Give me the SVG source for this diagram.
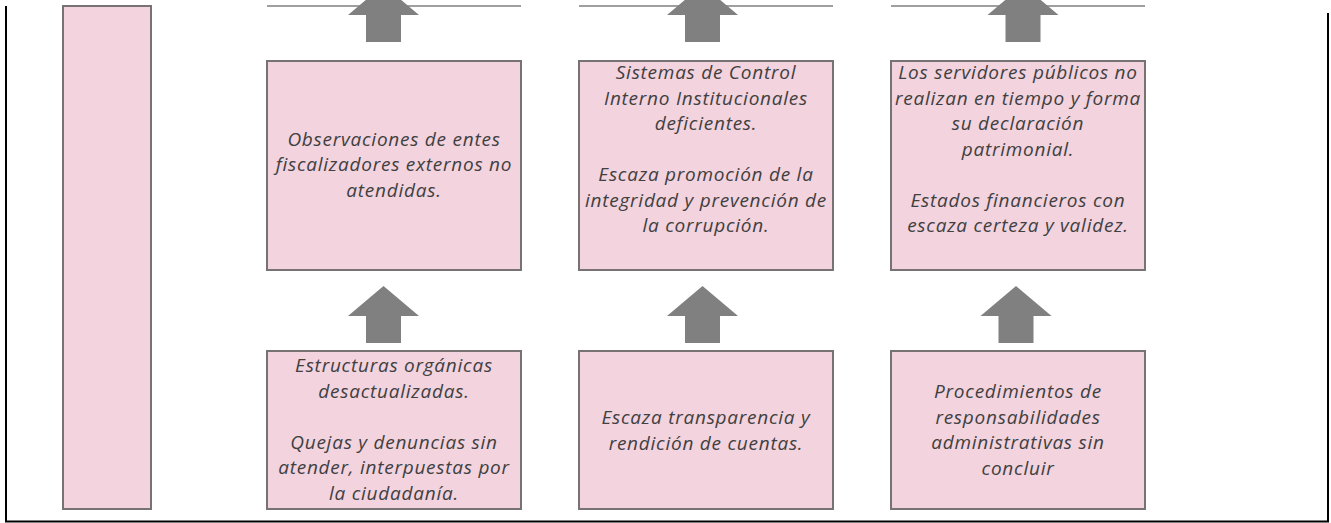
<svg xmlns="http://www.w3.org/2000/svg" width="1331" height="523" viewBox="0 0 1331 523">
<style>
.box{fill:#F2D3DE;stroke:#777373;stroke-width:2}
.arrow{fill:#808080}
.hl{stroke:#7F7F7F;stroke-width:1.5;fill:none}
.frame{stroke:#000;stroke-width:2;fill:none}
text{font-family:"Open Sans","Liberation Sans",sans-serif;font-style:italic;font-size:19px;letter-spacing:0.75px;fill:#404040;text-anchor:middle}
</style>
<defs>
<path id="up" d="M0,-30 L35.5,0 L17.5,0 L17.5,27 L-17.5,27 L-17.5,0 L-35.5,0 Z"/>
</defs>
<g id="frame">
<path class="frame" d="M6,6 V521.5 H1328 V13"/>
</g>
<g id="connectors">
<line class="hl" x1="267" y1="6" x2="521" y2="6"/>
<line class="hl" x1="579" y1="6" x2="833" y2="6"/>
<line class="hl" x1="891" y1="6" x2="1145" y2="6"/>
<use href="#up" class="arrow" x="383.5" y="15"/>
<use href="#up" class="arrow" x="702.5" y="15"/>
<use href="#up" class="arrow" x="1023" y="15"/>
<use href="#up" class="arrow" x="383.5" y="316"/>
<use href="#up" class="arrow" x="702.5" y="316"/>
<use href="#up" class="arrow" x="1016" y="316"/>
</g>
<g id="leftbar"><rect class="box" x="63" y="6" width="88" height="503"/></g>
<g id="box-top1">
<rect class="box" x="267" y="61" width="254" height="209"/>
<text><tspan x="394" y="145.5">Observaciones de entes</tspan><tspan x="394" y="171">fiscalizadores externos no</tspan><tspan x="394" y="196.5">atendidas.</tspan></text>
</g>
<g id="box-top2">
<rect class="box" x="579" y="61" width="254" height="209"/>
<text><tspan x="706" y="79">Sistemas de Control</tspan><tspan x="706" y="104.5">Interno Institucionales</tspan><tspan x="706" y="130">deficientes.</tspan><tspan x="706" y="181">Escaza promoción de la</tspan><tspan x="706" y="206.5">integridad y prevención de</tspan><tspan x="706" y="232">la corrupción.</tspan></text>
</g>
<g id="box-top3">
<rect class="box" x="891" y="61" width="254" height="209"/>
<text><tspan x="1018" y="79">Los servidores públicos no</tspan><tspan x="1018" y="104.5">realizan en tiempo y forma</tspan><tspan x="1018" y="130">su declaración</tspan><tspan x="1018" y="155.5">patrimonial.</tspan><tspan x="1018" y="206.5">Estados financieros con</tspan><tspan x="1018" y="232">escaza certeza y validez.</tspan></text>
</g>
<g id="box-bot1">
<rect class="box" x="267" y="351" width="254" height="158"/>
<text><tspan x="394" y="372">Estructuras orgánicas</tspan><tspan x="394" y="397.5">desactualizadas.</tspan><tspan x="394" y="448.5">Quejas y denuncias sin</tspan><tspan x="394" y="474">atender, interpuestas por</tspan><tspan x="394" y="499.5">la ciudadanía.</tspan></text>
</g>
<g id="box-bot2">
<rect class="box" x="579" y="351" width="254" height="158"/>
<text><tspan x="706" y="424">Escaza transparencia y</tspan><tspan x="706" y="449.5">rendición de cuentas.</tspan></text>
</g>
<g id="box-bot3">
<rect class="box" x="891" y="351" width="254" height="158"/>
<text><tspan x="1018" y="398">Procedimientos de</tspan><tspan x="1018" y="423.5">responsabilidades</tspan><tspan x="1018" y="449">administrativas sin</tspan><tspan x="1018" y="474.5">concluir</tspan></text>
</g>
</svg>
